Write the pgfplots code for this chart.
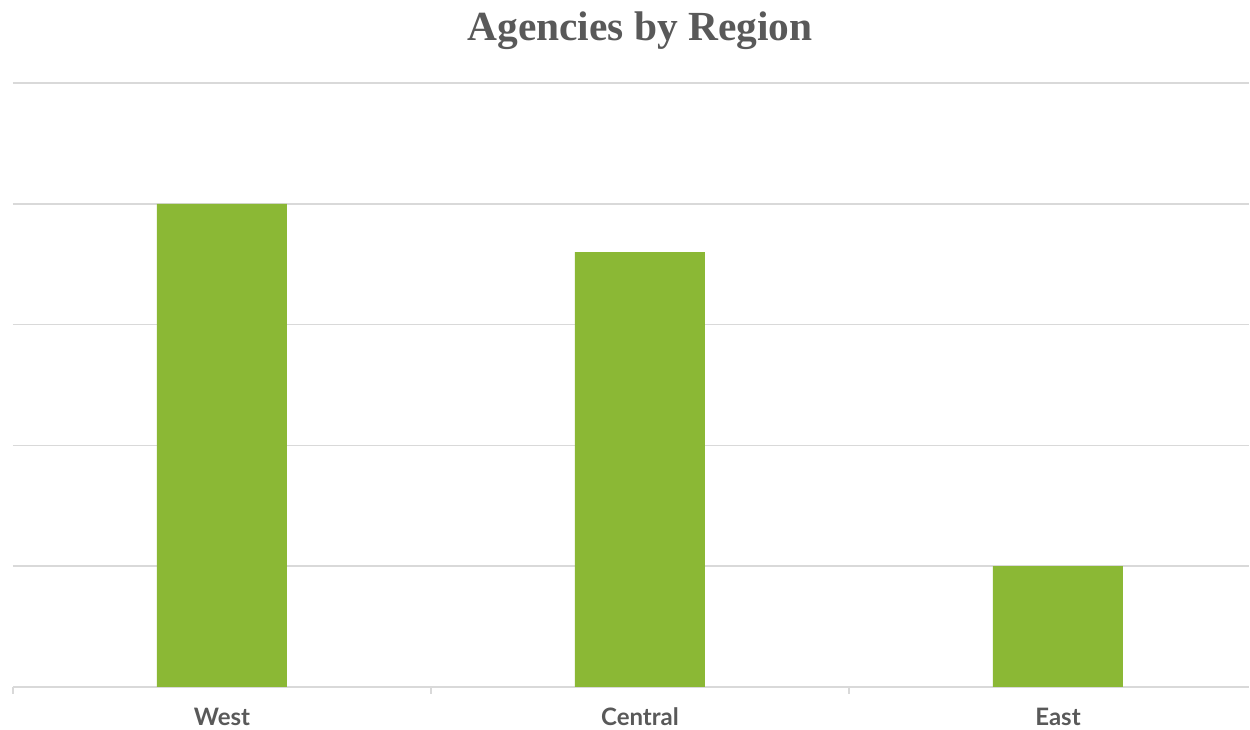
\documentclass[border=0pt]{standalone}
\usepackage{pgfplots}
\pgfplotsset{compat=1.18}
\usepackage{fontspec}
\setmainfont{Lato}
\newfontfamily\titlefont{Liberation Serif}
\definecolor{bargreen}{HTML}{8BB835}
\definecolor{gridgray}{HTML}{D9D9D9}
\definecolor{textgray}{HTML}{595959}
\begin{document}
\begin{tikzpicture}
\begin{axis}[
  scale only axis,
  width=618pt, height=302pt,
  xmin=-0.5, xmax=2.457,
  ymin=0, ymax=5,
  ytick={0,1,2,3,4,5},
  yticklabels={},
  ymajorgrids,
  grid style={gridgray, line width=0.8pt},
  axis x line*=bottom,
  axis y line*=left,
  x axis line style={gridgray, line width=0.8pt},
  y axis line style={draw=none},
  ytick style={draw=none},
  xtick={-0.5,0.5,1.5},
  xticklabels={},
  xtick style={draw=gridgray, line width=0.8pt},
  tick align=outside,
  major tick length=3.5pt,
  extra x ticks={0,1,2},
  extra x tick labels={West,Central,East},
  extra x tick style={major tick length=0pt, tick style={draw=none}},
  xticklabel style={font=\bfseries\fontsize{12}{14}\selectfont, text=textgray, anchor=base, yshift=-19.5pt},
  clip=false,
]
\addplot[ybar, bar width=0.311, fill=bargreen, draw=none] coordinates {(0,4) (1,3.6) (2,1)};
\node[font=\titlefont\bfseries\fontsize{20.7}{24}\selectfont, text=textgray, anchor=base] at (axis cs:1,5) [yshift=21pt] {Agencies by Region};
\end{axis}
\pgfresetboundingbox
\path ([shift={(-6.5pt,-21.5pt)}]current axis.south west) rectangle ([shift={(0.5pt,41.5pt)}]current axis.north east);
\end{tikzpicture}
\end{document}
